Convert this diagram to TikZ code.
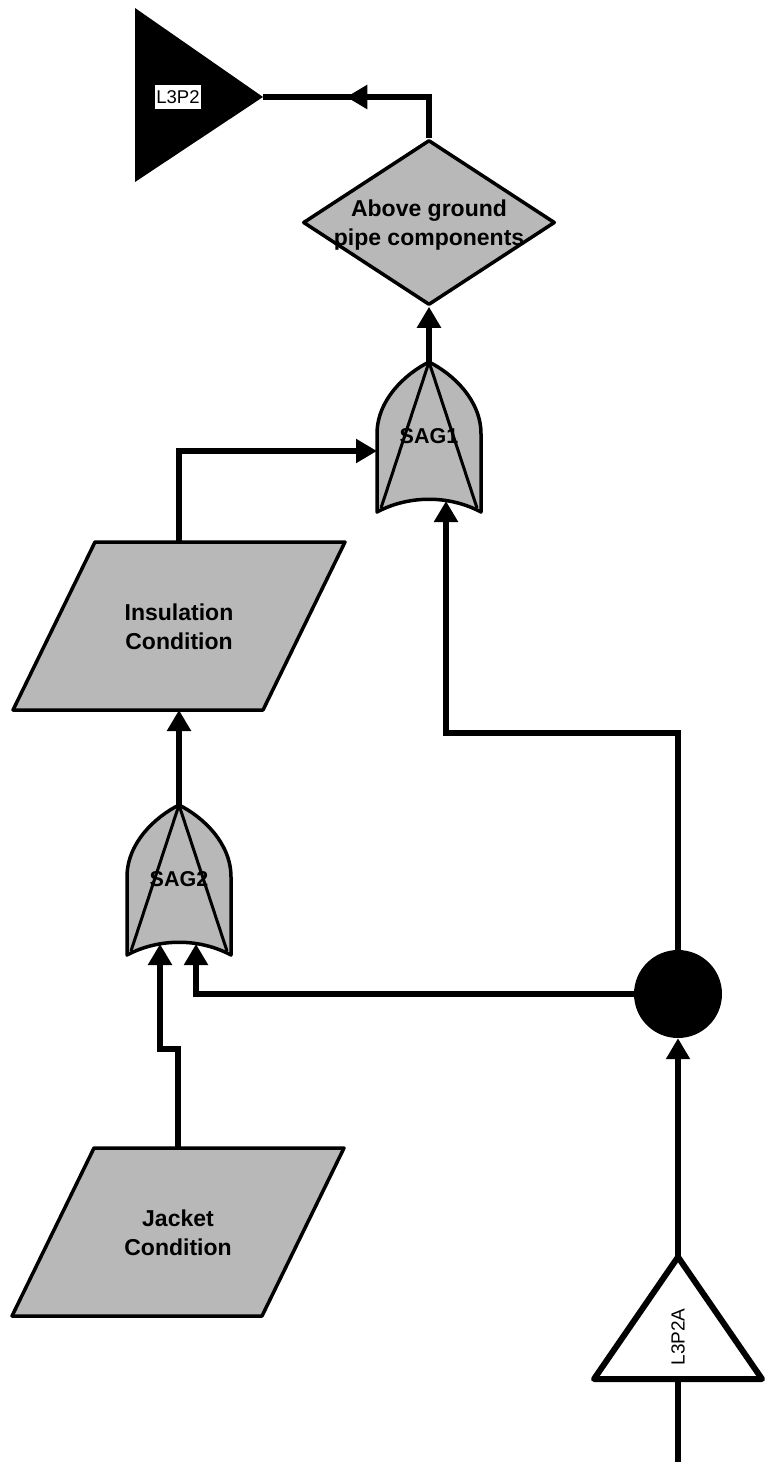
\documentclass[tikz,border=0pt]{standalone}
\usepackage{fontspec}
\setmainfont{Liberation Sans}
\usetikzlibrary{arrows.meta,positioning,shapes.geometric,decorations.markings}
\tikzset{
  >={Triangle[length=21pt,width=23pt]},
  wire/.style={line width=5.5pt},
  shade/.style={draw, line width=3.5pt, fill=black!28, line join=round},
  boxlbl/.style={font=\bfseries\fontsize{23}{29}\selectfont, align=center, inner sep=0pt},
  gatelbl/.style={font=\bfseries\fontsize{21.5}{25}\selectfont, inner sep=0pt},
  orgate/.pic={
    \draw[shade] (-52,150) -- (-52,72) .. controls (-52,38) and (-24,12) .. (0,0)
      .. controls (24,12) and (52,38) .. (52,72) -- (52,150)
      .. controls (20,133) and (-20,133) .. (-52,150) -- cycle;
    \draw[line width=3pt, line join=round] (-48,146) -- (0,0) -- (48,146);
    \node[gatelbl] (-lbl) at (0,74) {\tikzpictext};
    \coordinate (-top) at (0,0);
    \coordinate (-side) at (-52,89);
    \coordinate (-bl) at (-19,139);
    \coordinate (-br) at (17,139);
  },
  condbox/.pic={
    \draw[shade] (-84,-84) -- (166,-84) -- (84,84) -- (-166,84) -- cycle;
    \node[boxlbl] (-lbl) at (0,1) {\tikzpictext};
    \coordinate (-top) at (0,-84);
    \coordinate (-bot) at (0,84);
  }
}
\begin{document}
\begin{tikzpicture}[x=1pt, y=-1pt,
    tag/.style={draw, line width=0.6pt, fill=white, font=\fontsize{18.5}{22}\selectfont, inner xsep=2pt, inner ysep=6pt},
    midarrow/.style={postaction={decorate}, decoration={markings, mark=at position #1 with {\arrow{>}}}}
  ]
  \useasboundingbox (0,0) rectangle (769,1483);
  % transfer in (black) and transfer out (white)
  \fill[line join=round] (135,8) -- (263,97) -- (135,182) -- cycle;
  \coordinate (l3p2-tip) at (263,97);
  \node[tag] (l3p2) at (178,97) {L3P2};
  \draw[line width=6pt, fill=white, line join=round] (678,1257) -- (762,1379) -- (594,1379) -- cycle;
  \coordinate (l3p2a-top) at (678,1257);
  \coordinate (l3p2a-bot) at (678,1379);
  \coordinate (feed) at (678,1462);
  \node[rotate=90, font=\fontsize{19}{22}\selectfont] (l3p2a) at (678,1337) {L3P2A};
  % top event and gates
  \node[diamond, shade, minimum width=252pt, minimum height=165pt, inner sep=0pt] (agpc) at (429,222.5) {};
  \node[boxlbl] (agpclbl) at (429,225) {Above ground\\pipe components};
  \pic[pic text=SAG1] (sag1) at (429,362) {orgate};
  \pic[pic text=SAG2] (sag2) at (179,805) {orgate};
  \pic[pic text={Insulation\\Condition}] (insul) at (179,626) {condbox};
  \pic[pic text={Jacket\\Condition}] (jack) at (178,1232) {condbox};
  \node[circle, fill=black, minimum size=88pt, inner sep=0pt] (hub) at (678,994) {};
  \coordinate (jog) at (160,1049);
  % connectors
  \draw[wire, midarrow=124pt] (agpc.north) |- (l3p2-tip);
  \draw[wire, ->] (sag1-top) -- (agpc.south);
  \draw[wire, ->] (insul-top) |- (sag1-side);
  \draw[wire, ->] (hub.north) -- ++(0,-217) -| (sag1-br);
  \draw[wire, ->] (sag2-top) -- (insul-bot);
  \draw[wire, ->] (jack-top) |- (jog) -- (sag2-bl);
  \draw[wire, ->] (hub.west) -| (sag2-br);
  \draw[wire, ->] (l3p2a-top) -- (hub.south);
  \draw[wire] (l3p2a-bot) -- (feed);
\end{tikzpicture}
\end{document}
